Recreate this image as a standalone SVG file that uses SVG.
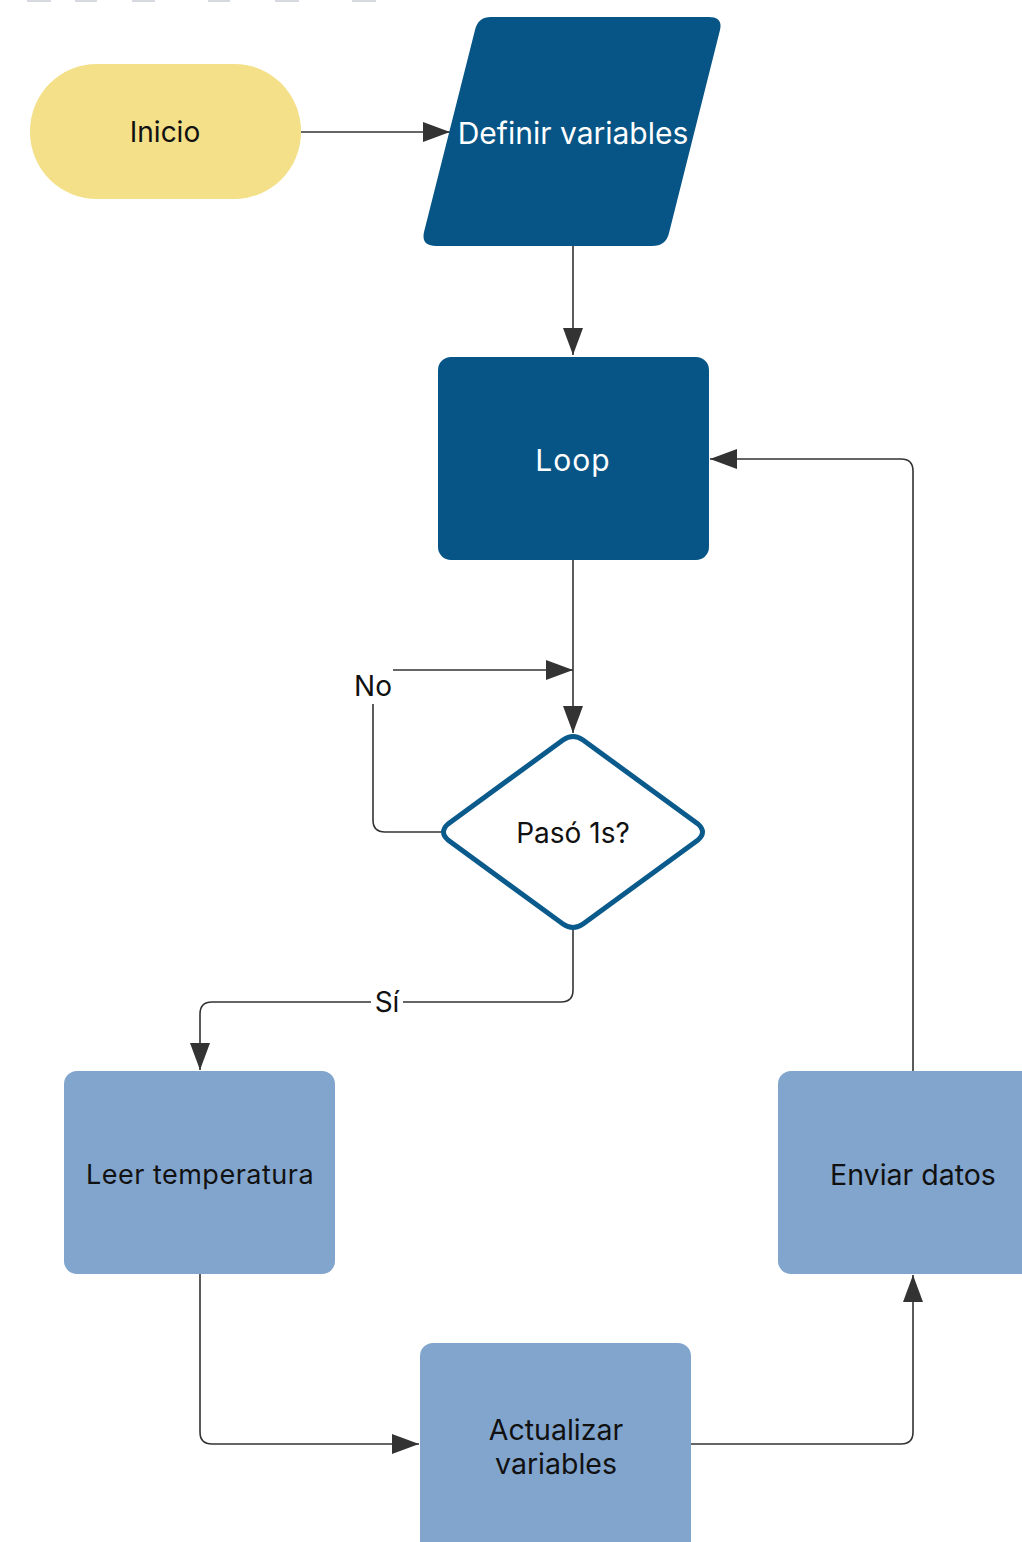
<svg xmlns="http://www.w3.org/2000/svg" width="1022" height="1542" viewBox="0 0 1022 1542">
<style>
.lbl{font-family:Inter,"Liberation Sans",sans-serif;text-anchor:middle;dominant-baseline:central}
.dark{fill:#075586}
.light{fill:#82a5cd}
.wt{fill:#ffffff}
.bk{fill:#111111}
.conn{fill:none;stroke:#333333;stroke-width:1.6}
</style>
<defs>
<marker id="ah" markerUnits="userSpaceOnUse" markerWidth="28" markerHeight="20" refX="27" refY="10" orient="auto">
<path d="M0,0 L27,10 L0,20 z" fill="#333333"/>
</marker>
</defs>
<rect width="1022" height="1542" fill="#ffffff"/>
<g id="toolbar" fill="#d6d9df">
<rect x="27" y="0" width="24" height="2"/>
<rect x="75" y="0" width="22" height="2"/>
<rect x="132" y="0" width="23" height="2"/>
<rect x="208" y="0" width="22" height="2"/>
<rect x="275" y="0" width="24" height="2"/>
<rect x="352" y="0" width="24" height="2"/>
</g>
<g id="connectors">
<path class="conn" d="M301,132 H450" marker-end="url(#ah)"/>
<path class="conn" d="M573,246 V355" marker-end="url(#ah)"/>
<path class="conn" d="M573,560 V733" marker-end="url(#ah)"/>
<path class="conn" d="M441,832 H385 Q373,832 373,820 V704"/>
<path class="conn" d="M393,670 H573" marker-end="url(#ah)"/>
<path class="conn" d="M573,930 V990 Q573,1002 561,1002 H403"/>
<path class="conn" d="M371,1002 H212 Q200,1002 200,1014 V1070" marker-end="url(#ah)"/>
<path class="conn" d="M200,1274 V1432 Q200,1444 212,1444 H419" marker-end="url(#ah)"/>
<path class="conn" d="M691,1444 H901 Q913,1444 913,1432 V1275" marker-end="url(#ah)"/>
<path class="conn" d="M913,1071 V471 Q913,459 901,459 H710" marker-end="url(#ah)"/>
<text class="lbl bk" x="373" y="686" font-size="28">No</text>
<text class="lbl bk" x="387" y="1002" font-size="28">Sí</text>
</g>
<g id="inicio">
<rect x="30" y="64" width="271" height="135" rx="67" ry="67" fill="#f3e088"/>
<text class="lbl bk" x="165" y="132" font-size="28">Inicio</text>
</g>
<g id="definir">
<path class="dark" d="M491,17 H709 Q723,17 720,30 L669,233 Q666,246 652,246 H436 Q421,246 424,232 L475,30 Q478,17 491,17 Z"/>
<text class="lbl wt" x="573" y="133" font-size="30">Definir variables</text>
</g>
<g id="loop">
<rect class="dark" x="438" y="357" width="271" height="203" rx="13"/>
<text class="lbl wt" x="573" y="460" font-size="30" letter-spacing="1">Loop</text>
</g>
<g id="paso">
<path d="M563,740 Q573,733 583,740 L698,824 Q707,832 698,840 L583,924 Q573,931 563,924 L448,840 Q439,832 448,824 Z" fill="#ffffff" stroke="#0a5a8c" stroke-width="5" stroke-linejoin="round"/>
<text class="lbl bk" x="573" y="833" font-size="28">Pasó 1s?</text>
</g>
<g id="leer">
<rect class="light" x="64" y="1071" width="271" height="203" rx="13"/>
<text class="lbl bk" x="200" y="1174" font-size="27" letter-spacing="0.5">Leer temperatura</text>
</g>
<g id="actualizar">
<rect class="light" x="420" y="1343" width="271" height="215" rx="13"/>
<text class="lbl bk" x="556" y="1429" font-size="28.5">Actualizar</text>
<text class="lbl bk" x="556" y="1463" font-size="28.5">variables</text>
</g>
<g id="enviar">
<rect class="light" x="778" y="1071" width="271" height="203" rx="13"/>
<text class="lbl bk" x="913" y="1174" font-size="28.5">Enviar datos</text>
</g>
</svg>
